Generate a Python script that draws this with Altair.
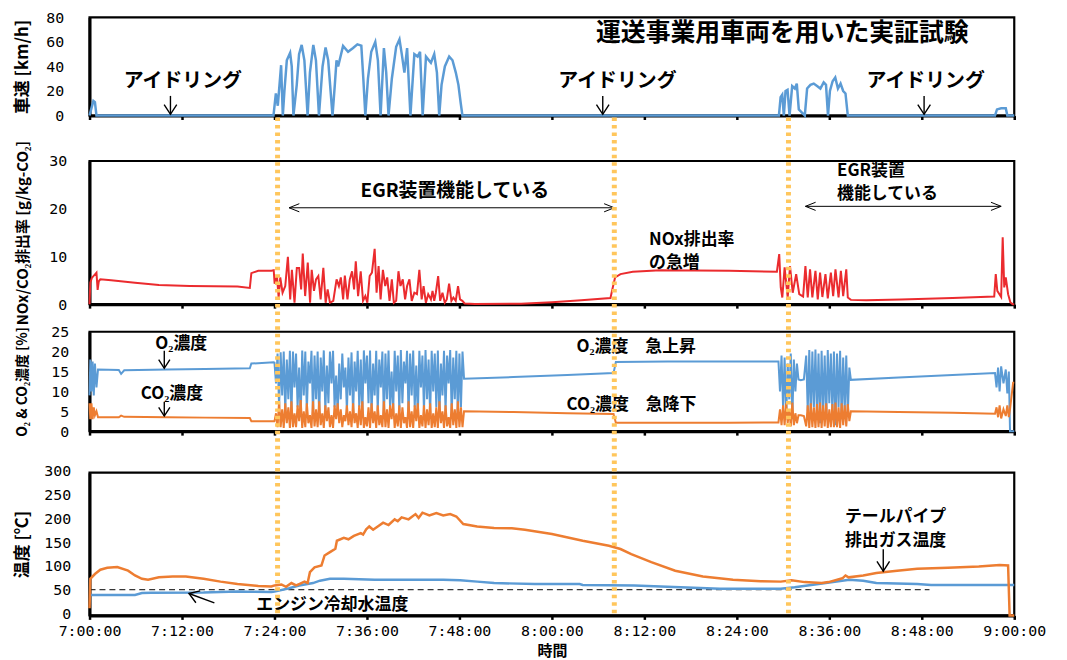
import altair as alt
import pandas as pd

# ------------------------------------------------------------------ data
# time is in minutes after 7:00:00
TICK_MINUTES = [0, 12, 24, 36, 48, 60, 72, 84, 96, 108, 120]
DIVIDER_MINUTES = [24.4, 68.1, 90.7]

# vehicle speed [km/h]
SPEED = [
    (0, 0), (0.25, 6), (0.5, 12), (0.7, 11), (0.9, 0), (23.3, 0), (23.87, 0), (24.18, 18), (24.43, 8),
    (24.86, 41), (25.08, 0), (25.29, 20), (25.6, 45), (26.03, 51), (26.24, 40), (26.46, 0), (26.89, 25),
    (27.19, 50), (27.53, 57.5), (27.88, 45), (28.3, 0), (28.6, 35), (29.04, 57.5), (29.38, 45), (29.77, 0),
    (30.24, 40), (30.63, 55.5), (30.97, 45), (31.53, 0), (31.83, 25), (32.05, 45), (32.26, 40), (32.9, 56.7),
    (33.55, 52), (34.2, 55), (34.76, 58), (35.27, 57), (35.53, 30), (35.79, 0), (36.13, 30), (36.56, 52),
    (37.08, 60), (37.42, 45), (37.77, 0), (38.2, 55), (38.5, 35), (38.8, 0), (39.23, 30), (39.79, 56),
    (40.22, 62), (40.52, 50), (40.86, 35), (41.21, 55), (41.64, 0), (42.15, 50), (42.58, 48), (42.89, 52),
    (43.23, 0), (43.66, 48), (44.3, 43), (44.73, 50), (45.08, 35), (45.38, 0), (45.68, 25), (46.11, 40),
    (46.67, 48), (47.1, 45), (47.53, 35), (47.87, 25), (48.17, 10), (48.39, 0),
    (89.46, 0), (89.68, 15), (89.89, 17), (90.1, 0), (90.32, 20), (90.58, 21), (90.84, 0), (91.18, 24),
    (91.53, 22), (91.78, 26), (92.04, 5), (92.82, 0), (93.12, 22), (93.55, 25), (93.98, 26), (94.41, 24),
    (94.84, 22), (95.27, 27), (95.57, 25), (95.83, 0), (96.08, 20), (96.43, 28), (96.77, 31), (97.12, 22),
    (97.46, 26), (97.8, 20), (98.1, 18), (98.4, 0),
    (117.5, 0), (117.76, 5), (118.3, 6), (118.9, 6), (119.1, 0), (120, 0),
]

# NOx / CO2 emission ratio [g/kg-CO2]
NOX = [
    (0, 0), (0.1, 4.5), (0.3, 5.5), (0.9, 6.6), (1.05, 3), (1.2, 4.8), (1.4, 5.2), (2.8, 5.0), (5.9, 4.5),
    (9, 4.0), (13, 3.8), (19.2, 3.7), (20.8, 3.4), (21.0, 6.5), (21.9, 7.0), (23.6, 7.0), (23.9, 7.1),
    (24.02, 4.3), (24.32, 5.9), (24.54, 1.4), (24.75, 5.6), (25.05, 2.4), (25.4, 3.8), (25.74, 9.9),
    (26.04, 1.0), (26.26, 7.2), (26.6, 0.3), (26.9, 7.6), (27.2, 7.6), (27.46, 3.1), (27.67, 10.6),
    (27.98, 1.7), (28.32, 8.7), (28.62, 0.3), (28.83, 7.2), (29.13, 2.8), (29.39, 5.2), (29.69, 5.9),
    (29.99, 1.0), (30.34, 7.6), (30.64, 0.3), (30.9, 3.1), (31.2, 0.3), (31.63, 0.7), (32.06, 5.2),
    (32.36, 3.8), (32.61, 5.6), (32.91, 1.0), (33.13, 6.0), (33.47, 1.0), (33.77, 5.2), (34.07, 6.9),
    (34.33, 3.1), (34.55, 9.0), (34.85, 1.7), (35.19, 6.9), (35.49, 0.7), (35.79, 1.7), (36.05, 0.3),
    (36.35, 5.9), (36.65, 6.6), (37.0, 11.6), (37.25, 2.4), (37.51, 8.0), (37.77, 1.0), (38.07, 7.2),
    (38.37, 3.8), (38.63, 5.6), (38.93, 0.7), (39.23, 5.2), (39.49, 0.3), (39.79, 0.7), (40.09, 6.9),
    (40.35, 3.8), (40.65, 5.2), (40.95, 1.0), (41.21, 3.8), (41.51, 5.2), (41.81, 0.7), (42.15, 2.4),
    (42.49, 2.1), (42.8, 7.2), (43.1, 1.0), (43.35, 3.8), (43.65, 0.3), (43.95, 2.1), (44.3, 1.0),
    (44.51, 2.8), (44.73, 0.7), (44.94, 2.4), (45.24, 5.9), (45.5, 0.7), (45.8, 2.4), (46.1, 0.3),
    (46.36, 1.0), (46.66, 4.3), (46.96, 0.7), (47.22, 1.4), (47.52, 0.7), (47.82, 3.8), (48.08, 1.0),
    (48.38, 0.7), (48.68, 0.15), (50, 0.05), (56, 0.1), (60, 0.4), (63.8, 0.8), (67.6, 1.3), (67.9, 3.5),
    (68.2, 5.6), (68.9, 6.3), (70.5, 6.8), (74.1, 7.1), (83, 7.0), (89.2, 6.8),
    (89.5, 10.5), (89.7, 3.5), (89.9, 1.4), (90.2, 7.7), (90.6, 1.4), (90.9, 8.0), (91.25, 2.4), (91.7, 6.3),
    (92.1, 2.1), (92.6, 1.6), (92.9, 8.0), (93.2, 1.4), (93.5, 7.3), (93.8, 1.4), (94.2, 7.0), (94.5, 1.0),
    (94.8, 6.6), (95.1, 1.5), (95.5, 6.3), (95.8, 1.2), (96.2, 6.6), (96.5, 1.7), (96.8, 7.3), (97.2, 1.4),
    (97.5, 7.0), (97.8, 1.7), (98.2, 7.3), (98.4, 1.4), (98.8, 0.9), (100.8, 0.8), (105.3, 1.0),
    (112, 1.3), (117.4, 1.6), (117.6, 6.3), (117.8, 2.8), (118.3, 1.5), (118.5, 14), (118.7, 3.5),
    (118.9, 5.6), (119.2, 2.1), (119.5, 0.35), (119.8, 0), (120, 0),
]

# (time, O2 [%], CO2 [%])
GAS = [
    (0, 9, 7.0), (0.1, 18, 3.0), (0.25, 10, 7.0), (0.4, 17.5, 3.0), (0.55, 9, 6.0), (0.7, 17, 4.0),
    (0.9, 11, 5.0), (1.1, 15.5, 3.5), (3.8, 15.4, 3.5), (4.1, 14.4, 3.9), (4.5, 15.3, 3.6), (10, 15.5, 3.5),
    (15, 15.6, 3.4), (20.8, 15.8, 3.3), (21.0, 17.0, 2.5), (23.9, 17.3, 2.5),
    (24.0, 17.2, 2.5), (24.2, 12, 4.5), (24.4, 19.5, 1.0), (24.6, 6, 7.5), (24.8, 19.8, 1.0), (25.0, 9, 5.5),
    (25.2, 20, 0.8), (25.4, 5, 7.0), (25.6, 18, 2.0), (25.8, 8, 6.0), (26.0, 20.2, 0.8), (26.2, 4, 7.5),
    (26.4, 20, 1.0), (26.6, 11, 4.5), (26.8, 19.5, 1.0), (27.0, 6, 6.5), (27.2, 16, 2.5), (27.4, 3.5, 7.8),
    (27.6, 20.3, 0.8), (27.8, 9, 5.0), (28.0, 20, 1.0), (28.2, 5, 7.0), (28.4, 17.5, 2.0), (28.6, 12, 4.0),
    (28.8, 20.2, 0.8), (29.0, 4, 7.5), (29.2, 19, 1.2), (29.4, 8, 5.5), (29.6, 20, 1.0), (29.8, 3.5, 7.5),
    (30.0, 18.5, 1.5), (30.2, 10, 4.5), (30.4, 20.3, 0.8), (30.6, 5, 6.5), (30.8, 16.5, 2.5), (31.0, 7, 6.0),
    (31.2, 20, 1.0), (31.4, 12, 4.0), (31.6, 20.2, 0.8), (31.8, 6, 6.5), (32.0, 14, 3.0), (32.2, 4.5, 7.0),
    (32.4, 17, 2.0), (32.6, 8, 5.5), (32.8, 19.5, 1.0), (33.0, 11, 4.0), (33.2, 16, 2.5), (33.4, 5, 6.5),
    (33.6, 18.5, 1.5), (33.8, 9, 5.0), (34.0, 19.8, 1.0), (34.2, 4, 7.0), (34.4, 17.5, 2.0), (34.6, 10, 4.5),
    (34.8, 20.2, 0.8), (35.0, 6, 6.5), (35.2, 18, 1.5), (35.4, 3.5, 7.5), (35.6, 20.3, 0.8), (35.8, 12, 3.5),
    (36.0, 19, 1.2), (36.2, 7, 6.0), (36.4, 20.3, 0.8), (36.6, 4, 7.0), (36.8, 17, 2.0), (37.0, 9, 5.0),
    (37.2, 20.2, 0.8), (37.4, 5, 6.5), (37.6, 18, 1.5), (37.8, 11, 4.0), (38.0, 20, 1.0), (38.2, 3, 7.5),
    (38.4, 19.5, 1.0), (38.6, 8, 5.5), (38.8, 20.3, 0.8), (39.0, 6, 6.5), (39.2, 15, 3.0), (39.4, 4.5, 7.0),
    (39.6, 20.2, 0.8), (39.8, 10, 4.5), (40.0, 19, 1.2), (40.2, 5, 6.5), (40.4, 20.4, 0.8), (40.6, 7, 6.0),
    (40.8, 17.5, 2.0), (41.0, 12, 3.5), (41.2, 20.2, 0.8), (41.4, 4, 7.5), (41.6, 19.5, 1.0), (41.8, 9, 5.0),
    (42.0, 20.3, 0.8), (42.2, 6, 6.5), (42.4, 16.5, 2.5), (42.6, 3.5, 7.0), (42.8, 20.2, 0.8), (43.0, 11, 4.0),
    (43.2, 19, 1.2), (43.4, 5, 6.5), (43.6, 20.4, 0.8), (43.8, 8, 5.5), (44.0, 18, 1.5), (44.2, 4, 7.0),
    (44.4, 20.2, 0.8), (44.6, 10, 4.5), (44.8, 19.5, 1.0), (45.0, 6, 6.0), (45.2, 20.3, 0.8), (45.4, 3.5, 7.5),
    (45.6, 17, 2.0), (45.8, 9, 5.0), (46.0, 20.2, 0.8), (46.2, 5, 6.5), (46.4, 19, 1.2), (46.6, 12, 3.5),
    (46.8, 20.4, 0.8), (47.0, 4, 7.0), (47.2, 18.5, 1.5), (47.4, 8, 5.5), (47.6, 20.2, 0.8), (47.8, 3.5, 7.5),
    (48.0, 19.5, 1.0), (48.2, 6, 6.0), (48.4, 20, 1.0), (48.6, 13.2, 5.0),
    (55, 13.6, 4.8), (62, 14.1, 4.5), (68.0, 14.6, 4.3), (68.3, 17.4, 2.1), (75, 17.5, 2.1), (83, 17.5, 2.1),
    (89.2, 17.5, 2.2),
    (89.4, 17.5, 2.2), (89.6, 10, 5.5), (89.8, 19, 1.5), (90.0, 6, 6.5), (90.2, 18.5, 1.5), (90.4, 3, 7.0),
    (90.6, 17, 2.0), (90.8, 8, 5.5), (91.0, 19.5, 1.2), (91.2, 3, 7.2), (91.4, 18, 1.5), (91.6, 10, 4.5),
    (91.8, 17, 2.0), (92.0, 13, 4.0), (92.3, 12.8, 4.0), (92.7, 13, 3.8), (93.0, 19, 1.2), (93.2, 5, 6.5),
    (93.4, 20.4, 0.8), (93.6, 3, 7.0), (93.8, 20, 1.0), (94.0, 6, 6.0), (94.2, 20.5, 0.8), (94.4, 4, 6.8),
    (94.6, 19.5, 1.0), (94.8, 2, 7.2), (95.0, 20.2, 0.8), (95.2, 5, 6.5), (95.4, 19, 1.2), (95.6, 3, 7.0),
    (95.8, 20.4, 0.8), (96.0, 7, 5.5), (96.2, 19.5, 1.0), (96.4, 4, 6.8), (96.6, 20, 1.0), (96.8, 1.5, 7.2),
    (97.0, 19.5, 1.0), (97.2, 6, 6.0), (97.4, 20.2, 0.8), (97.6, 3, 7.0), (97.8, 18.5, 1.5), (98.0, 5, 6.5),
    (98.2, 19, 1.2), (98.4, 4, 6.8), (98.6, 16, 2.5), (98.8, 12.9, 5.0),
    (105, 13.5, 4.8), (112, 14.1, 4.6), (117.5, 14.6, 4.4), (117.7, 11, 6.0), (117.9, 16, 3.5),
    (118.1, 10, 6.5), (118.3, 16.3, 3.2), (118.6, 12, 5.5), (118.9, 15.5, 3.8), (119.1, 9.5, 6.5),
    (119.3, 15, 3.5), (119.45, 0, 5.5), (119.85, 0, 12.2), (120, 0, 12.2),
]

# tail-pipe exhaust gas temperature [deg C]
EXHAUST = [
    (0, 15), (0.1, 77), (0.7, 87), (1.4, 96), (2.3, 100), (3.6, 101.5), (5, 94), (5.9, 84), (6.8, 77),
    (7.6, 75), (9, 80), (10.8, 82), (12.5, 82), (14.8, 77), (17, 71), (19.2, 66), (21.9, 62), (23.6, 61),
    (24, 63), (24.9, 65), (25.5, 60), (26.2, 68), (26.8, 63), (27.2, 66), (27.9, 71), (28.3, 68), (28.6, 91),
    (29.2, 101), (30.1, 105), (30.5, 126), (31.2, 133), (31.9, 140), (32.1, 157), (33, 163), (33.6, 160),
    (34.3, 167), (35.2, 173), (35.5, 170), (35.9, 181), (36.3, 187), (36.8, 180), (37.4, 187), (38.1, 195),
    (38.8, 190), (39.6, 202), (40.0, 198), (40.5, 206), (41.4, 202), (42.3, 213), (42.7, 205), (43.2, 216),
    (44.1, 210), (45, 215), (45.9, 210), (46.8, 213), (47.6, 208), (48.5, 192), (50.3, 187), (52.5, 184),
    (54.8, 183), (56.5, 180), (60, 171), (64, 157), (67.4, 146.5), (68.9, 139.6), (70.3, 129), (72.9, 112),
    (76, 94), (79.6, 82), (83.5, 75), (87.1, 72), (89.7, 71), (91.1, 74), (92.8, 70), (95, 68), (95.9, 70),
    (97.7, 78), (98.1, 84), (98.5, 80), (100.4, 84), (102.1, 89), (104.8, 94), (107.4, 98), (111.4, 100),
    (115.4, 103), (118.1, 106), (119.2, 105), (119.4, 0), (120, 0),
]

# engine coolant temperature [deg C]
COOLANT = [
    (0, 43), (5.9, 43), (6.8, 47), (8, 47.5), (14.8, 48), (19.2, 50), (23.6, 49), (24, 50), (25.9, 57),
    (27.2, 63), (29, 68), (29.9, 73), (31.2, 77), (33, 77), (37, 75), (41.4, 75), (45.9, 75), (48.1, 74),
    (50.3, 71), (52.5, 68), (57.8, 66), (63.6, 66), (64, 64), (70.7, 63), (81.8, 56), (89.7, 56),
    (91.5, 59), (94.6, 66), (98.6, 75), (100.4, 73), (102.1, 68), (107.4, 66), (109.2, 64), (120, 64),
]

# dashed reference level in the temperature panel: (start, end, level)
COOLANT_REF = [(0, 109, 54)]

# annotation texts: (time, value, text)
P1_TITLE = [(89.9, 67.5, "運送事業用車両を用いた実証試験")]
P1_IDLE = [(12.1, 28.5, "アイドリング"), (68.5, 28.5, "アイドリング"), (108.5, 28.5, "アイドリング")]
P1_ARROWS = [(10.5, 16, 1), (66.6, 16, 1), (108.3, 16, 1)]          # (time, from, tip)

P2_CENTER = [(47.4, 23.75, "EGR装置機能している")]
P2_LEFT = [(97, 27.8, "EGR装置"), (97, 23.0, "機能している"),
           (72.6, 13.5, "NOx排出率"), (72.6, 8.7, "の急増")]
P2_SPANS = [(25.9, 68.1, 20.2), (92.9, 118.3, 20.5)]                 # (from, to, level)

P3_CENTER = [(11.9, 21.9, "O₂濃度"), (10.7, 9.3, "CO₂濃度")]
P3_LEFT = [(63.2, 21.1, "O₂濃度　急上昇"), (61.9, 6.5, "CO₂濃度　急降下")]
P3_ARROWS = [(9.7, 20.2, 15.8), (9.7, 7.4, 3.8)]

P4_CENTER = [(31.5, 21, "エンジン冷却水温度"), (104.6, 206, "テールパイプ"), (104.6, 156, "排出ガス温度")]
P4_ARROWS = [(16.2, 26.5, 12.9, 46, 110), (103, 139, 103, 93, 0)]   # (t0, v0, t_tip, v_tip, angle)

# ------------------------------------------------------------------ style / layout
FONT_JP = "Noto Sans CJK JP"
FONT_NUM = "DejaVu Sans Mono"
BLUE = "#5B9BD5"
ORANGE = "#ED7D31"
RED = "#EB2B2E"
DIVIDER = "#FFC65C"

PLOT_W = 930
PLOT_H = 601.5
PANEL = {
    "speed": dict(domain=[0, 80], px=[98.8, 0], ticks=[0, 20, 40, 60, 80],
                  title="車速 [km/h]", tsize=17, lpad=26, loff=0),
    "nox": dict(domain=[0, 30], px=[288.5, 144.5], ticks=[0, 10, 20, 30],
                title="NOx/CO₂排出率 [g/kg-CO₂]", tsize=15, lpad=23, loff=0),
    "gas": dict(domain=[0, 25], px=[416.2, 316.2], ticks=[0, 5, 10, 15, 20, 25],
                title="O₂ & CO₂濃度 [%]", tsize=14, lpad=21, loff=0),
    "temp": dict(domain=[0, 300], px=[601.5, 458], ticks=[0, 50, 100, 150, 200, 250, 300],
                 title="温度 [℃]", tsize=17, lpad=19, loff=-2),
}
X_SCALE = alt.Scale(domain=[0, 120], nice=False, zero=False)
HEAD = "M -0.65 -1 L 0 0 L 0.65 -1"
HEAD_THIN = "M -0.4 -1 L 0 0 L 0.4 -1"
LABEL_EXPR = ("(floor(datum.value / 60) + 7) + ':' + (datum.value % 60 < 10 ? '0' : '') "
              "+ (datum.value % 60) + ':00'")


def yscale(key):
    p = PANEL[key]
    return alt.Scale(domain=p["domain"], range=p["px"], nice=False, zero=False)


def X(field="t"):
    return alt.X(f"{field}:Q", scale=X_SCALE, axis=None)


def Y(key, field="v"):
    return alt.Y(f"{field}:Q", scale=yscale(key), axis=None)


def frame(key, last=False):
    p = PANEL[key]
    df = pd.DataFrame({"t0": [0], "t1": [120], "v0": [p["domain"][0]], "v1": [p["domain"][1]]})
    common = dict(orient="bottom", values=TICK_MINUTES, ticks=True, tickSize=4, tickWidth=2.5,
                  tickColor="black", domainColor="black", domainWidth=3, grid=False,
                  offset=round(p["px"][0] - PLOT_H, 1))
    if last:
        xaxis = alt.Axis(**common, labels=True, labelExpr=LABEL_EXPR, labelFont=FONT_NUM,
                         labelFontSize=15, labelColor="black", labelPadding=4, labelFlush=False,
                         labelOverlap=False, title="時間", titleFont=FONT_JP, titleFontSize=15,
                         titleFontWeight="bold", titleColor="black", titlePadding=5)
    else:
        xaxis = alt.Axis(**common, labels=False, title="")
    yaxis = alt.Axis(orient="left", values=p["ticks"], ticks=False, domainColor="black",
                     domainWidth=3, grid=False, labelFont=FONT_NUM, labelFontSize=15,
                     labelColor="black", labelPadding=p["lpad"], labelOffset=p["loff"],
                     labelFlush=False, labelOverlap=False,
                     title=p["title"], titleFont=FONT_JP, titleFontSize=p["tsize"],
                     titleFontWeight="bold", titleColor="black", titleAngle=270, titleX=-67,
                     titleBaseline="middle", titleAlign="center")
    return alt.Chart(df).mark_rect(filled=False, color="black", strokeWidth=2.2).encode(
        x=alt.X("t0:Q", scale=X_SCALE, axis=xaxis), x2=alt.X2("t1"),
        y=alt.Y("v0:Q", scale=yscale(key), axis=yaxis), y2=alt.Y2("v1"))


def line(df, key, field, color, width):
    return alt.Chart(df).mark_line(color=color, strokeWidth=width).encode(x=X(), y=Y(key, field))


def texts(rows, key, align, size):
    df = pd.DataFrame(rows, columns=["t", "v", "label"])
    return alt.Chart(df).mark_text(font=FONT_JP, fontSize=size, fontWeight="bold", color="black",
                                   align=align, baseline="middle").encode(x=X(), y=Y(key), text="label:N")


def vertical_arrows(rows, key, head_size, width=1.4):
    df = pd.DataFrame(rows, columns=["t", "v0", "v1"])
    shaft = alt.Chart(df).mark_rule(color="black", strokeWidth=width).encode(
        x=X(), y=Y(key, "v0"), y2=alt.Y2("v1"))
    head = alt.Chart(df).mark_point(shape=HEAD, filled=False, color="black", opacity=1,
                                    strokeWidth=width, size=head_size).encode(x=X(), y=Y(key, "v1"))
    return [shaft, head]


# ------------------------------------------------------------------ layers
speed_df = pd.DataFrame(SPEED, columns=["t", "v"])
nox_df = pd.DataFrame(NOX, columns=["t", "v"])
gas_df = pd.DataFrame(GAS, columns=["t", "o2", "co2"])
exh_df = pd.DataFrame(EXHAUST, columns=["t", "v"])
cool_df = pd.DataFrame(COOLANT, columns=["t", "v"])

layers = [
    frame("speed"), frame("nox"), frame("gas"), frame("temp", last=True),
    line(speed_df, "speed", "v", BLUE, 2.5),
    texts(P1_TITLE, "speed", "center", 25),
    texts(P1_IDLE, "speed", "center", 20),
]
layers += vertical_arrows(P1_ARROWS, "speed", 380)

spans_df = pd.DataFrame(P2_SPANS, columns=["t0", "t1", "v"])
layers += [
    line(nox_df, "nox", "v", RED, 2),
    texts(P2_CENTER, "nox", "center", 19),
    texts(P2_LEFT, "nox", "left", 17),
    alt.Chart(spans_df).mark_rule(color="black", strokeWidth=1).encode(
        x=X("t0"), x2=alt.X2("t1"), y=Y("nox")),
    alt.Chart(spans_df).mark_point(shape=HEAD_THIN, filled=False, color="black", opacity=1,
                                   strokeWidth=1, size=420, angle=90).encode(x=X("t0"), y=Y("nox")),
    alt.Chart(spans_df).mark_point(shape=HEAD_THIN, filled=False, color="black", opacity=1,
                                   strokeWidth=1, size=420, angle=270).encode(x=X("t1"), y=Y("nox")),
]

layers += [
    line(gas_df, "gas", "o2", BLUE, 2),
    line(gas_df, "gas", "co2", ORANGE, 2),
    texts(P3_CENTER, "gas", "center", 17),
    texts(P3_LEFT, "gas", "left", 17),
]
layers += vertical_arrows(P3_ARROWS, "gas", 300)

ref_df = pd.DataFrame(COOLANT_REF, columns=["t0", "t1", "v"])
arr_df = pd.DataFrame(P4_ARROWS, columns=["t0", "v0", "t1", "v1", "ang"])
layers += [
    alt.Chart(ref_df).mark_rule(color="black", strokeWidth=1, strokeDash=[6, 4]).encode(
        x=X("t0"), x2=alt.X2("t1"), y=Y("temp")),
    line(cool_df, "temp", "v", BLUE, 2.5),
    line(exh_df, "temp", "v", ORANGE, 2.5),
    texts(P4_CENTER, "temp", "center", 17),
    alt.Chart(arr_df).mark_rule(color="black", strokeWidth=1.4).encode(
        x=X("t0"), y=Y("temp", "v0"), x2=alt.X2("t1"), y2=alt.Y2("v1")),
    alt.Chart(arr_df).mark_point(shape=HEAD, filled=False, color="black", opacity=1,
                                 strokeWidth=1.4, size=380).encode(
        x=X("t1"), y=Y("temp", "v1"), angle=alt.Angle("ang:Q", scale=None)),
]

div_df = pd.DataFrame({"t": DIVIDER_MINUTES})
layers.append(
    alt.Chart(div_df).mark_rule(color=DIVIDER, strokeWidth=5, strokeDash=[3.5, 4]).encode(
        x=X(), y=alt.value(PANEL["speed"]["px"][0] + 2), y2=alt.value(PLOT_H))
)

chart = (
    alt.layer(*layers)
    .resolve_scale(y="independent")
    .resolve_axis(x="independent", y="independent")
    .properties(width=PLOT_W, height=PLOT_H,
                autosize=alt.AutoSizeParams(type="none"),
                padding={"left": 82, "top": 7.5, "right": 45, "bottom": 45})
    .configure_view(strokeWidth=0)
)

chart.save("out.html", embed_options={"renderer": "svg", "actions": False})
